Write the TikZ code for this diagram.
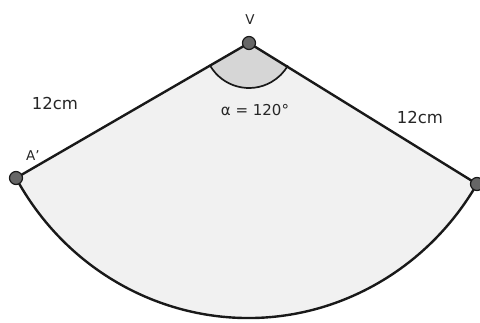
\documentclass[tikz,border=0pt]{standalone}
\usepackage{fontspec}
\setmainfont{DejaVu Sans}
\begin{document}
\begin{tikzpicture}[x=1pt,y=1pt,
  dot/.style={circle,draw=black!90,line width=1.2pt,fill=black!60,inner sep=0pt,minimum size=13pt},
  lbl/.style={font=\fontsize{16.5}{19}\selectfont,text=black!85},
  small/.style={font=\fontsize{13.5}{16}\selectfont,text=black!85},
  edge/.style={line width=2.4pt,black!90}]
\useasboundingbox (0,0) rectangle (480,322);
\coordinate (Vc) at (249,279);
\coordinate (Ac) at (16,144);
\coordinate (Bc) at (477,138);
% sector
\fill[gray!11] (Vc) -- (Ac) arc[start angle=209.4,end angle=329.1,x radius=266.5,y radius=275] -- cycle;
% angle marker
\fill[gray!32] (Vc) -- ++(210:45) arc[start angle=210,end angle=330,radius=45] -- cycle;
\draw[line width=1.7pt,black!90] (Vc) ++(210:45) arc[start angle=210,end angle=330,radius=45];
% edges
\draw[edge,line join=round] (Ac) -- (Vc) -- (Bc);
\draw[edge] (Ac) arc[start angle=209.4,end angle=329.1,x radius=266.5,y radius=275];
% points
\node[dot] (V) at (Vc) {};
\node[dot] (A) at (Ac) {};
\node[dot] (B) at (Bc) {};
% labels
\node[small] (vl) at (250,302) {V};
\node[small] (al) at (33,166) {A'};
\node[lbl] (l1) at (55,219) {12cm};
\node[lbl] (l2) at (420,205) {12cm};
\node[lbl,font=\fontsize{15}{18}\selectfont] (ang) at (255,212) {α = 120°};
\end{tikzpicture}
\end{document}
